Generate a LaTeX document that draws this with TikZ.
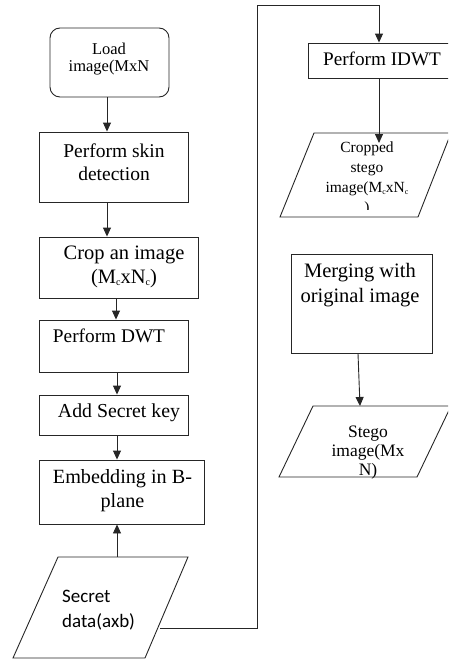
\documentclass[tikz,border=0pt]{standalone}
\usepackage{fontspec}
\setmainfont{Liberation Serif}
\newfontfamily\calib{Carlito}
\usetikzlibrary{arrows.meta}

\tikzset{
  box/.style={draw=black!85, line width=0.9pt, inner sep=0pt, fill=white},
  shapeline/.style={draw=black!85, line width=0.9pt},
  flow/.style={draw=black!85, line width=0.9pt, -{Triangle[length=9pt,width=8pt]}},
  txt/.style={inner sep=0pt, align=center, anchor=north},
}
\newcommand{\fs}[2]{\fontsize{#1}{#2}\selectfont}
% small lowered index letter
\newcommand{\idx}[2]{\raisebox{-2pt}{\fontsize{#1}{#1}\selectfont #2}}

\begin{document}
\begin{tikzpicture}[x=1pt,y=-1pt]
\useasboundingbox (0,0) rectangle (448,659);
\clip (0,0) rectangle (448,659);

% ---- left column: process boxes ----
\node[box, minimum width=119, minimum height=69, rounded corners=10pt] (load) at (109.5,62.5) {};
\node[box, minimum width=149, minimum height=70] (skin)  at (113.5,167) {};
\node[box, minimum width=159, minimum height=61] (crop)  at (118.5,267.5) {};
\node[box, minimum width=149, minimum height=52] (dwt)   at (113.5,346) {};
\node[box, minimum width=149, minimum height=40] (key)   at (113.5,415) {};
\node[box, minimum width=165, minimum height=64] (embed) at (121.5,492) {};

% secret data input (parallelogram)
\draw[shapeline] (58,557) -- (188,557) -- (145,658) -- (13,658) -- cycle;
\coordinate (secret-top) at (117,557);
\coordinate (secret-out) at (160,628);

% ---- right column ----
\node[box, minimum width=142, minimum height=35] (idwt)  at (379,60.5) {};
\draw[shapeline] (314,133) -- (451,133) -- (418,217) -- (280,217) -- cycle;
\coordinate (cropped-top) at (379,143);
\node[box, minimum width=141, minimum height=99] (merge) at (361.5,303.5) {};
\draw[shapeline] (313,406) -- (451,406) -- (417,477) -- (279,477) -- cycle;
\coordinate (stego-top) at (360,406);

% ---- texts ----
\node[txt, font=\fs{16.5}{15.5}] (load-t) at (109,{54-11}) {\strut Load\\image(MxN};
\node[txt, font=\fs{19.5}{23}] (skin-t) at (114,{157-16.1}) {\strut Perform skin\\detection};
\node[txt, font=\fs{20.5}{24}] (crop-t) at (124,{259-16.8}) {\strut Crop an image\\(M\idx{10}{c}xN\idx{10}{c})};
\node[txt, font=\fs{19.3}{23}] (dwt-t) at (109,{342-16.1}) {\strut Perform DWT};
\node[txt, font=\fs{19.8}{23}] (key-t) at (119,{417-16.1}) {\strut Add Secret key};
\node[txt, font=\fs{20.2}{24}] (embed-t) at (122.5,{483-16.8}) {\strut Embedding in B-\\plane};
\node[txt, align=left, anchor=north west, font=\calib\fs{19}{25}] (secret-t) at (62,{602-17.5}) {\strut Secret\\data(axb)};

\node[txt, font=\fs{19.2}{23}] (idwt-t) at (382,{65-16.1}) {\strut Perform IDWT};
\begin{scope}
  \clip (270,133) rectangle (448,209);
  \node[txt, font=\fs{15.5}{20}] (cropped-t) at (367,{152-14}) {\strut Cropped\\stego\\image(M\idx{8}{c}xN\idx{8}{c}\\)};
\end{scope}
\node[txt, font=\fs{20.5}{25}] (merge-t) at (360,{277-17.5}) {\strut Merging with\\original image};
\node[txt, font=\fs{17.5}{19}] (stego-t) at (368,{437-13.3}) {\strut Stego\\image(Mx\\N)};

% ---- connectors ----
\draw[flow] ([xshift=-2.5pt]load.south) -- ([xshift=-2.5pt]load.south |- skin.north);
\draw[flow] ([xshift=-6.5pt]skin.south) -- ([xshift=-6.5pt]skin.south |- crop.north);
\draw[flow] ([xshift=-2.5pt]crop.south) -- ([xshift=-2.5pt]crop.south |- dwt.north);
\draw[flow] ([xshift=3.5pt]dwt.south) -- ([xshift=3.5pt]dwt.south |- key.north);
\draw[flow] ([xshift=3.5pt]key.south) -- ([xshift=3.5pt]key.south |- embed.north);
\draw[flow] (secret-top) -- (secret-top |- embed.south);
\draw[flow] (secret-out) -- ++(97,0) |- (379,5) -- (idwt.north);
\draw[flow] (idwt.south) -- (cropped-top);
\draw[flow] ([xshift=-3.5pt]merge.south) -- (stego-top);
\end{tikzpicture}
\end{document}
